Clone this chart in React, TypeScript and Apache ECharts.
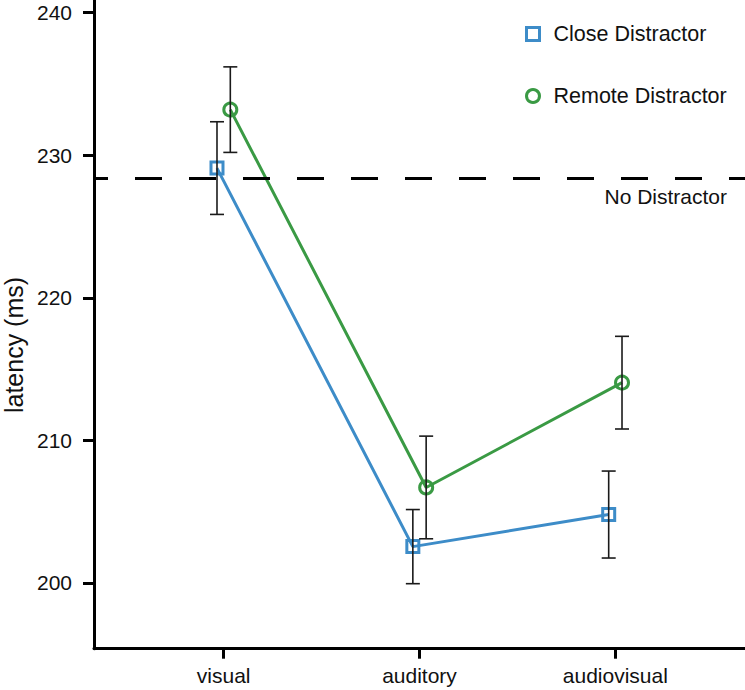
import React, { useEffect, useRef } from "react";
import * as echarts from "echarts";

const categories = ["visual", "auditory", "audiovisual"];
const categoryPos = [1, 2, 3];
const closeMean = [229.1, 202.55, 204.8];
const closeErr = [3.25, 2.6, 3.05];
const remoteMean = [233.2, 206.7, 214.05];
const remoteErr = [3.0, 3.6, 3.25];
const noDistractor = 228.37;
const yTicks = [200, 210, 220, 230, 240];
const seriesNames = ["Close Distractor", "Remote Distractor"];

const BLUE = "#3d8cc8";
const GREEN = "#3a9a44";
const FONT = "'Liberation Sans', Arial, Helvetica, sans-serif";
const DODGE = 0.034;

function errorBarSeries(name: string, means: number[], errs: number[], offset: number) {
  return {
    type: "custom",
    name: name + " err",
    silent: true,
    z: 5,
    data: categoryPos.map((p, i) => [p + offset, means[i] - errs[i], means[i] + errs[i]]),
    encode: { x: 0, y: [1, 2] },
    renderItem: (params: any, api: any) => {
      const x = api.value(0);
      const lo = api.coord([x, api.value(1)]);
      const hi = api.coord([x, api.value(2)]);
      const w = 7;
      const style = { stroke: "#1a1a1a", lineWidth: 1.6 };
      return {
        type: "group",
        children: [
          { type: "line", shape: { x1: lo[0], y1: lo[1], x2: hi[0], y2: hi[1] }, style },
          { type: "line", shape: { x1: lo[0] - w, y1: lo[1], x2: lo[0] + w, y2: lo[1] }, style },
          { type: "line", shape: { x1: hi[0] - w, y1: hi[1], x2: hi[0] + w, y2: hi[1] }, style },
        ],
      };
    },
  };
}

export default function App() {
  const ref = useRef<HTMLDivElement>(null);
  useEffect(() => {
    if (!ref.current) return;
    const chart = echarts.init(ref.current, null, { renderer: "svg" });
    const option: any = {
      animation: false,
      backgroundColor: "#ffffff",
      textStyle: { fontFamily: FONT },
      grid: { left: 94, right: 0, top: 0, bottom: 41.3, containLabel: false },
      legend: {
        orient: "vertical",
        left: 520,
        top: 17,
        itemWidth: 13,
        itemHeight: 13,
        itemGap: 38,
        selectedMode: false,
        textStyle: { fontSize: 21.5, color: "#111", fontFamily: FONT, lineHeight: 24, padding: [0, 0, 0, 9] },
        data: [
          {
            name: seriesNames[0],
            icon: "rect",
            itemStyle: { color: "rgba(0,0,0,0)", borderColor: BLUE, borderWidth: 3 },
          },
          {
            name: seriesNames[1],
            icon: "circle",
            itemStyle: { color: "rgba(0,0,0,0)", borderColor: GREEN, borderWidth: 3 },
          },
        ],
      },
      xAxis: {
        type: "value",
        min: 0.338,
        max: 3.662,
        splitLine: { show: false },
        axisLine: { show: true, lineStyle: { color: "#000", width: 3 } },
        axisTick: { show: true, length: 10, lineStyle: { color: "#000", width: 3 }, customValues: categoryPos },
        axisLabel: {
          customValues: categoryPos,
          formatter: (v: number) => categories[Math.round(v) - 1] ?? "",
          fontSize: 21,
          color: "#111",
          margin: 16,
          fontFamily: FONT,
        },
      },
      yAxis: {
        type: "value",
        min: 195.39,
        max: 240.89,
        splitLine: { show: false },
        axisLine: { show: true, lineStyle: { color: "#000", width: 3 } },
        axisTick: { show: true, length: 11, lineStyle: { color: "#000", width: 3 }, customValues: yTicks },
        axisLabel: { customValues: yTicks, fontSize: 21, color: "#111", margin: 22, fontFamily: FONT },
      },
      graphic: [
        {
          type: "text",
          x: 14,
          y: 345,
          rotation: Math.PI / 2,
          style: {
            text: "latency (ms)",
            fontSize: 25,
            fill: "#111",
            fontFamily: FONT,
            align: "center",
            verticalAlign: "middle",
          },
        },
      ],
      series: [
        {
          type: "line",
          name: seriesNames[0],
          data: categoryPos.map((p, i) => [p - DODGE, closeMean[i]]),
          symbol: "rect",
          symbolSize: 12,
          lineStyle: { color: BLUE, width: 3 },
          itemStyle: { color: "rgba(0,0,0,0)", borderColor: BLUE, borderWidth: 3 },
          z: 3,
          markLine: {
            silent: true,
            symbol: ["none", "none"],
            lineStyle: { color: "#000", width: 3, type: [27, 27], dashOffset: 13 },
            label: {
              show: true,
              formatter: "No Distractor",
              position: "insideEndBottom",
              fontSize: 21,
              color: "#111",
              fontFamily: FONT,
              distance: [18, 8],
            },
            data: [{ yAxis: noDistractor }],
          },
        },
        {
          type: "line",
          name: seriesNames[1],
          data: categoryPos.map((p, i) => [p + DODGE, remoteMean[i]]),
          symbol: "circle",
          symbolSize: 13,
          lineStyle: { color: GREEN, width: 3 },
          itemStyle: { color: "rgba(0,0,0,0)", borderColor: GREEN, borderWidth: 3 },
          z: 3,
        },
        errorBarSeries(seriesNames[0], closeMean, closeErr, -DODGE),
        errorBarSeries(seriesNames[1], remoteMean, remoteErr, DODGE),
      ],
    };
    chart.setOption(option);
    return () => chart.dispose();
  }, []);
  return (
    <div
      ref={ref}
      style={{ position: "absolute", left: 0, top: 0, width: 745, height: 690, background: "#fff" }}
    />
  );
}
